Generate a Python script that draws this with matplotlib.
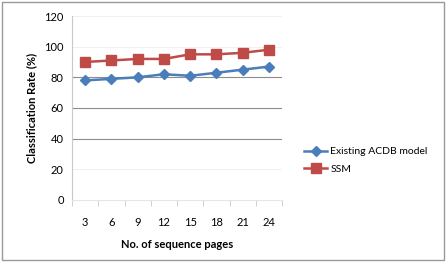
import matplotlib.pyplot as plt
import numpy as np

pages = ['3', '6', '9', '12', '15', '18', '21', '24']
acdb = [78, 79, 80, 82, 81, 83, 85, 87]
ssm = [90, 91, 92, 92, 95, 95, 96, 98]

plt.rcParams['font.family'] = ['Lato', 'DejaVu Sans']

fig = plt.figure(figsize=(4.46, 2.62), dpi=100)
ax = fig.add_axes([72 / 446, 62 / 262, 210 / 446, 184 / 262])

x = np.arange(len(pages))
ax.plot(x, acdb, color='#4a7ebb', marker='D', markersize=5, lw=1.8,
        label='Existing ACDB model')
ax.plot(x, ssm, color='#be4b48', marker='s', markersize=6.5, lw=1.8,
        label='SSM')

ax.set_xlim(-0.5, len(pages) - 0.5)
ax.set_ylim(0, 120)
ax.set_yticks(range(0, 121, 20))
ax.set_xticks(x)
ax.set_xticklabels(pages)
ax.set_xticks(np.arange(-0.5, len(pages), 1), minor=True)
ax.tick_params(axis='x', which='major', length=0, pad=12, labelsize=8)
ax.tick_params(axis='x', which='minor', length=4, color='#c8c8c8', direction='out')
ax.tick_params(axis='y', length=0, pad=6, labelsize=8)
for v in [40, 60, 80]:
    ax.axhline(v, color='#8c8c8c', lw=0.8, zorder=0)
for v in [20, 100, 120]:
    ax.axhline(v, color='#eeeeee', lw=0.6, zorder=0)

for s in ['top', 'right']:
    ax.spines[s].set_visible(False)
ax.spines['left'].set_color('#c8c8c8')
ax.spines['bottom'].set_color('#e6e6e6')

ax.set_ylabel('Classification Rate (%)', fontsize=8, fontweight='bold', labelpad=5)
ax.set_xlabel('No. of sequence pages', fontsize=8, fontweight='bold', labelpad=8)

fig.legend(loc='upper left', bbox_to_anchor=(300 / 446, 1 - 143 / 262),
           frameon=False, fontsize=7.5, handlelength=2.2, labelspacing=0.8,
           handletextpad=0.3, borderaxespad=0)

fig.patches.append(plt.Rectangle((2 / 446, 2 / 262), 442 / 446, 258 / 262,
                                 transform=fig.transFigure, fill=False,
                                 edgecolor='#9a9a9a', lw=1))

fig.savefig('out.png', dpi=100)
